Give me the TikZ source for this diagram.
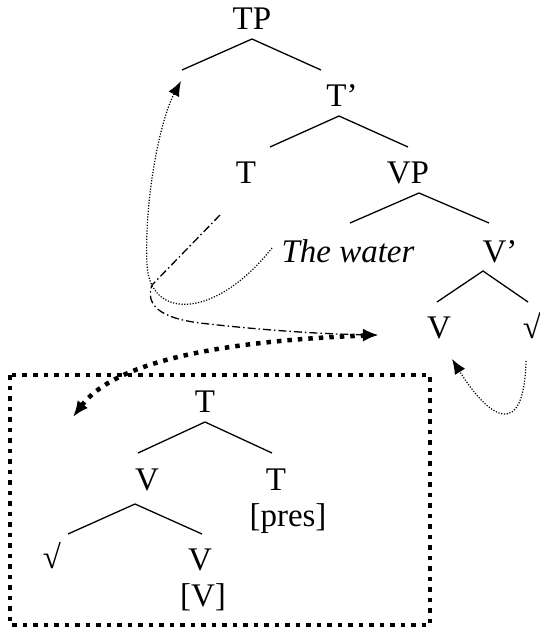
\documentclass[tikz,border=0pt]{standalone}
\usepackage{fontspec}
\setmainfont{Liberation Serif}
\usetikzlibrary{arrows.meta}

\begin{document}
\begin{tikzpicture}[x=1pt,y=-1pt,font=\fontsize{33}{39}\selectfont,
    lbl/.style={anchor=base,inner sep=0pt},
    branch/.style={line width=1.3pt},
    trace/.style={line width=1.2pt,dash pattern=on 1.2pt off 1.6pt,
                  -{Latex[length=15pt,width=12pt]}},
    headmove/.style={line width=1.3pt,dash pattern=on 8pt off 3pt on 1.5pt off 3pt,
                  -{Latex[length=15pt,width=12pt]}},
    fused/.style={line width=4.5pt,dash pattern=on 4.5pt off 6pt}]
  \useasboundingbox (0,0) rectangle (539,631);

  % clause
  \node[lbl] (TP)    at (252,30)  {TP};
  \node[lbl] (Tbar)  at (342,107) {T’};
  \node[lbl] (T)     at (246,183) {T};
  \node[lbl] (VP)    at (408,183) {VP};
  \node[lbl] (water) at (348,262) {\itshape The water};
  \node[lbl] (Vbar)  at (500,262) {V’};
  \node[lbl] (V)     at (439,338) {V};
  \node[lbl] (root)  at (532,338) {√};

  % complex head
  \node[lbl] (hT)    at (205,412) {T};
  \node[lbl] (hV)    at (147,490) {V};
  \node[lbl] (hTT)   at (276,490) {T};
  \node[lbl] (pres)  at (288,526) {[pres]};
  \node[lbl] (hroot) at (52,568)  {√};
  \node[lbl] (hVV)   at (200,570) {V};
  \node[lbl] (feat)  at (203,606) {[V]};

  \foreach \lx/\ax/\ay/\rx/\ry in {182/252/39/321/70, 270/339/116/408/147,
      350/419/193/489/223, 437/483/271/528/302,
      138/205/422/272/453, 68/135/504/202/534}
    \draw[branch] (\lx,\ry) -- (\ax,\ay) -- (\rx,\ry);

  \coordinate (spec) at (181,81);
  \coordinate (tgap) at (220,215);
  \coordinate (vgap) at (378,335);
  \coordinate (rgap) at (526,361);
  \coordinate (vtip) at (452,359);
  \coordinate (htip) at (73,417);

  % movement
  \draw[trace] (272,248) .. controls (215,320) and (150,320) .. (147,265)
               .. controls (144,200) and (160,120) .. (spec);
  \draw[headmove] (tgap) -- (152,285) .. controls (145,305) and (160,318) .. (200,323)
                  .. controls (260,330) and (320,334) .. (vgap);
  \draw[trace] (rgap) .. controls (524,440) and (490,420) .. (vtip);
  \draw[fused,{Latex[length=16pt,width=13pt]}-{Latex[length=15pt,width=12pt]}]
       (htip) .. controls (120,355) and (250,340) .. (vgap);

  \draw[fused] (10,375) rectangle (430,625);
\end{tikzpicture}
\end{document}
